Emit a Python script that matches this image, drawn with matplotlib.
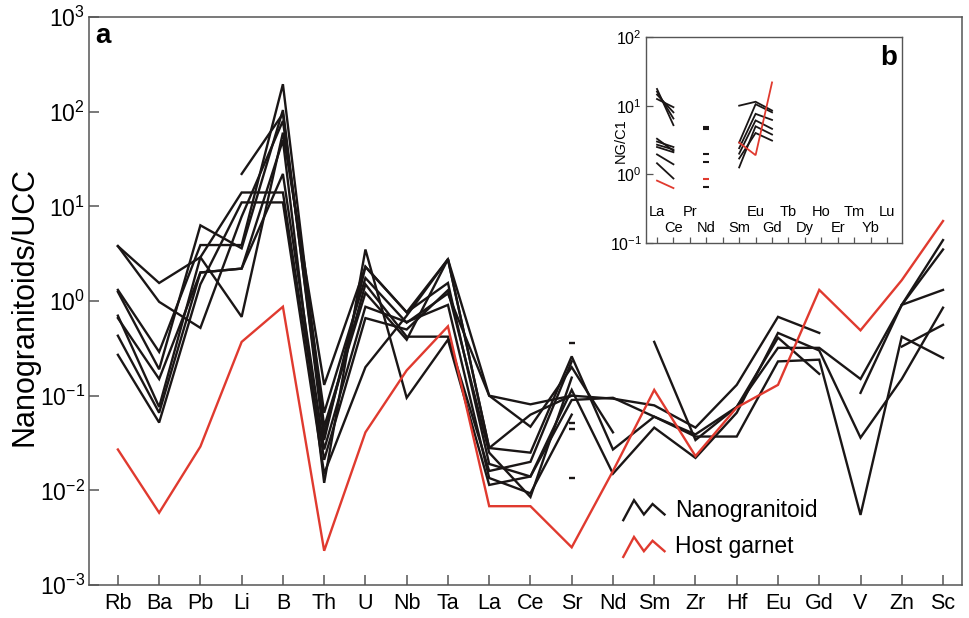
import numpy as np
import matplotlib
matplotlib.use("Agg")
import matplotlib.pyplot as plt
from matplotlib.lines import Line2D
from matplotlib.legend_handler import HandlerBase
from matplotlib.ticker import LogFormatterMathtext, NullLocator, FixedLocator
import matplotlib.transforms as mtransforms

plt.rcParams['font.family'] = ['Liberation Sans', 'DejaVu Sans']
plt.rcParams['mathtext.fontset'] = 'custom'
plt.rcParams['mathtext.rm'] = 'Liberation Sans'
plt.rcParams['mathtext.it'] = 'Liberation Sans:italic'
plt.rcParams['mathtext.bf'] = 'Liberation Sans:bold'

n = np.nan

# ---------------- main panel data (normalised to UCC) ----------------
elements = ['Rb', 'Ba', 'Pb', 'Li', 'B', 'Th', 'U', 'Nb', 'Ta', 'La', 'Ce',
            'Sr', 'Nd', 'Sm', 'Zr', 'Hf', 'Eu', 'Gd', 'V', 'Zn', 'Sc']

ng_1 = [3.8, 1.55, 2.9, 0.68, 60, 0.13, 2.3, 0.76, 2.76, 0.10, 0.081, 0.10, 0.093, 0.079, 0.046, 0.13, 0.68, 0.46, n, n, n]
ng_2 = [3.8, 0.98, 0.52, 7.8, 80, 0.066, 1.75, 0.59, 1.2, 0.10, 0.047, 0.20, 0.041, n, n, n, n, n, n, n, n]
ng_3 = [1.31, 0.29, 3.9, 3.9, 195, 0.047, 1.22, 0.39, 2.76, 0.028, 0.025, 0.26, 0.027, 0.06, 0.039, 0.076, 0.32, 0.32, 0.15, 0.91, 1.31]
ng_4 = [1.25, 0.19, 6.3, 3.6, 104, 0.034, 2.3, 0.76, 1.55, 0.019, 0.014, 0.115, 0.015, 0.046, 0.022, 0.066, 0.46, 0.30, 0.036, 0.15, 0.85]
ng_5 = [0.66, 0.15, 2.0, 2.2, 22, 0.027, 0.87, 0.60, 0.91, 0.0135, 0.0093, 0.063, n, n, n, n, n, n, n, 0.91, 3.5]
ng_6 = [0.70, 0.076, 2.9, 14, 14, 0.021, 0.66, 0.50, 1.3, 0.025, 0.0085, 0.155, n, n, n, n, n, n, n, 0.33, 0.56]
ng_7 = [0.43, 0.066, 2.0, 2.2, 50, 0.012, 3.5, 0.095, 0.39, 0.0114, 0.014, 0.09, 0.095, 0.06, 0.037, 0.037, 0.23, 0.24, 0.0055, 0.42, 0.25]
ng_8 = [0.27, 0.052, 1.5, 11, 11, 0.015, 0.20, 0.70, 2.76, 0.028, 0.063, 0.10, n, n, n, n, n, n, n, n, n]
ng_9 = [n, n, n, 22, 95, 0.04, 1.5, 0.42, 0.42, 0.016, 0.02, 0.23, n, 0.37, 0.034, 0.076, 0.41, 0.17, n, n, n]
ng_10 = [n, n, n, n, n, n, n, n, n, n, n, n, n, n, n, n, n, n, 0.107, 0.91, 4.4]
nanogranitoids = [ng_1, ng_2, ng_3, ng_4, ng_5, ng_6, ng_7, ng_8, ng_9, ng_10]

sr_single = [0.36, 0.052, 0.044, 0.0135]   # isolated Sr analyses

host_garnet = [0.027, 0.0058, 0.029, 0.37, 0.87, 0.0023, 0.041, 0.185, 0.54, 0.0068, 0.0068,
               0.0025, 0.016, 0.115, 0.023, 0.075, 0.13, 1.31, 0.49, 1.66, 7.0]

# ---------------- inset data (normalised to C1 chondrite) ----------------
ree = ['La', 'Ce', 'Pr', 'Nd', 'Pm', 'Sm', 'Eu', 'Gd', 'Tb', 'Dy', 'Ho', 'Er', 'Tm', 'Yb', 'Lu']

ng_la = [17.5, 16.0, 14.5, 12.5, 3.3, 3.0, 2.7, 2.5, 1.95, 1.45]
ng_ce = [5.2, 6.5, 8.0, 9.5, 2.2, 2.5, 2.3, 2.1, 1.4, 0.87]
ng_nd = [4.97, 4.6, 2.0, 1.49, 0.65]
ng_sm = [10.0, 2.9, 2.4, 2.0, 1.7, 1.26]
ng_eu = [11.4, 10.5, 7.6, 6.1, 4.0, 5.0]
ng_gd = [8.5, 8.0, 6.2, 4.6, 3.1, 3.8]

grt_la, grt_ce = 0.81, 0.63
grt_nd = 0.85
grt_sm, grt_eu, grt_gd = 2.9, 1.9, 21.8

BLACK = '#1a1616'
RED = '#e03a2f'
FRAME = '#555555'

fig = plt.figure(figsize=(9.69, 6.18), dpi=100)
ax = fig.add_axes([89/969, 1 - 585/618, 873/969, 568/618])

x = np.arange(len(elements))
for vals in nanogranitoids:
    ax.plot(x, vals, color=BLACK, lw=1.7, solid_joinstyle='miter', zorder=2)
ax.plot([elements.index('Sr')] * len(sr_single), sr_single, ls='none', marker='_',
        ms=5, mew=1.7, color=BLACK, zorder=2)
ax.plot(x, host_garnet, color=RED, lw=1.7, solid_joinstyle='miter', zorder=3)

ax.set_yscale('log')
ax.set_ylim(1e-3, 1e3)
ax.set_xlim(-0.70, 20.46)
ax.yaxis.set_major_locator(FixedLocator([1e-3, 1e-2, 1e-1, 1, 10, 100, 1000]))
ax.yaxis.set_major_formatter(LogFormatterMathtext())
ax.yaxis.set_minor_locator(NullLocator())
ax.set_xticks(x)
ax.set_xticklabels(elements)
ax.tick_params(axis='both', direction='in', length=7, width=1.1, color=FRAME)
ax.tick_params(axis='x', labelsize=15.5, pad=6)
ax.tick_params(axis='y', labelsize=16.5, pad=3)
for sp in ax.spines.values():
    sp.set_color(FRAME)
    sp.set_linewidth(1.1)
ax.set_ylabel('Nanogranitoids/UCC', fontsize=22)
ax.yaxis.set_label_coords(-0.057, 0.49)
ax.text(0.007, 0.954, 'a', transform=ax.transAxes, fontsize=20, fontweight='bold',
        ha='left', va='baseline')


class ZigZag(HandlerBase):
    def create_artists(self, legend, orig_handle, xdescent, ydescent, width, height,
                       fontsize, trans):
        xs = np.array([0, 0.26, 0.5, 0.71, 1.0]) * width - xdescent
        ys = (np.array([-0.1, 0.95, 0.2, 0.75, 0.2])) * height - ydescent
        line = Line2D(xs, ys, color=orig_handle.get_color(),
                      lw=orig_handle.get_linewidth(), solid_joinstyle='miter')
        line.set_transform(trans)
        return [line]


h1 = Line2D([], [], color=BLACK, lw=1.7)
h2 = Line2D([], [], color=RED, lw=1.7)
ax.legend([h1, h2], ['Nanogranitoid', 'Host garnet'], handler_map={Line2D: ZigZag()},
          loc='upper left', bbox_to_anchor=(0.612, 0.152), frameon=False, fontsize=16.5,
          handlelength=1.8, handleheight=0.9, handletextpad=0.45, labelspacing=0.6,
          borderpad=0, borderaxespad=0)

# ---------------- inset ----------------
ins = fig.add_axes([646/969, 1 - 243/618, 256/969, 206/618])
ins.set_yscale('log')
ins.set_ylim(0.1, 100)
ins.set_xlim(-0.67, 14.91)

i_la, i_ce, i_nd = ree.index('La'), ree.index('Ce'), ree.index('Nd')
i_sm, i_eu, i_gd = ree.index('Sm'), ree.index('Eu'), ree.index('Gd')
for a, b in zip(ng_la, ng_ce):
    ins.plot([i_la, i_ce], [a, b], color=BLACK, lw=1.3)
for a, b, c in zip(ng_sm, ng_eu, ng_gd):
    ins.plot([i_sm, i_eu, i_gd], [a, b, c], color=BLACK, lw=1.3, solid_joinstyle='miter')
ins.plot([i_nd] * len(ng_nd), ng_nd, ls='none', marker='_', ms=4, mew=1.5, color=BLACK)
ins.plot([i_la, i_ce], [grt_la, grt_ce], color=RED, lw=1.3)
ins.plot([i_nd], [grt_nd], ls='none', marker='_', ms=4, mew=1.5, color=RED)
ins.plot([i_sm, i_eu, i_gd], [grt_sm, grt_eu, grt_gd], color=RED, lw=1.3,
         solid_joinstyle='miter')

ins.yaxis.set_major_locator(FixedLocator([0.1, 1, 10, 100]))
ins.yaxis.set_major_formatter(LogFormatterMathtext())
ins.yaxis.set_minor_locator(NullLocator())
ins.set_xticks(np.arange(len(ree)))
ins.set_xticklabels([])
ins.tick_params(axis='y', direction='in', length=5, width=0.9, color=FRAME,
                labelsize=11.5, pad=3)
ins.tick_params(axis='x', direction='in', length=4, width=0.9, color=FRAME)
for sp in ins.spines.values():
    sp.set_color(FRAME)
    sp.set_linewidth(1.0)
ins.set_ylabel('NG/C1', fontsize=10.5)
ins.yaxis.set_label_coords(-0.07, 0.495)

tr = mtransforms.blended_transform_factory(ins.transData, ins.transAxes)
for k, name in enumerate(ree):
    if name == 'Pm':
        continue
    ypos = 0.15 if k % 2 == 0 else 0.075
    ins.text(k, ypos, name, transform=tr, ha='center', va='center', fontsize=10.5)
ins.text(0.98, 0.864, 'b', transform=ins.transAxes, fontsize=20, fontweight='bold',
         ha='right', va='baseline')

fig.savefig('out.png', dpi=100)
